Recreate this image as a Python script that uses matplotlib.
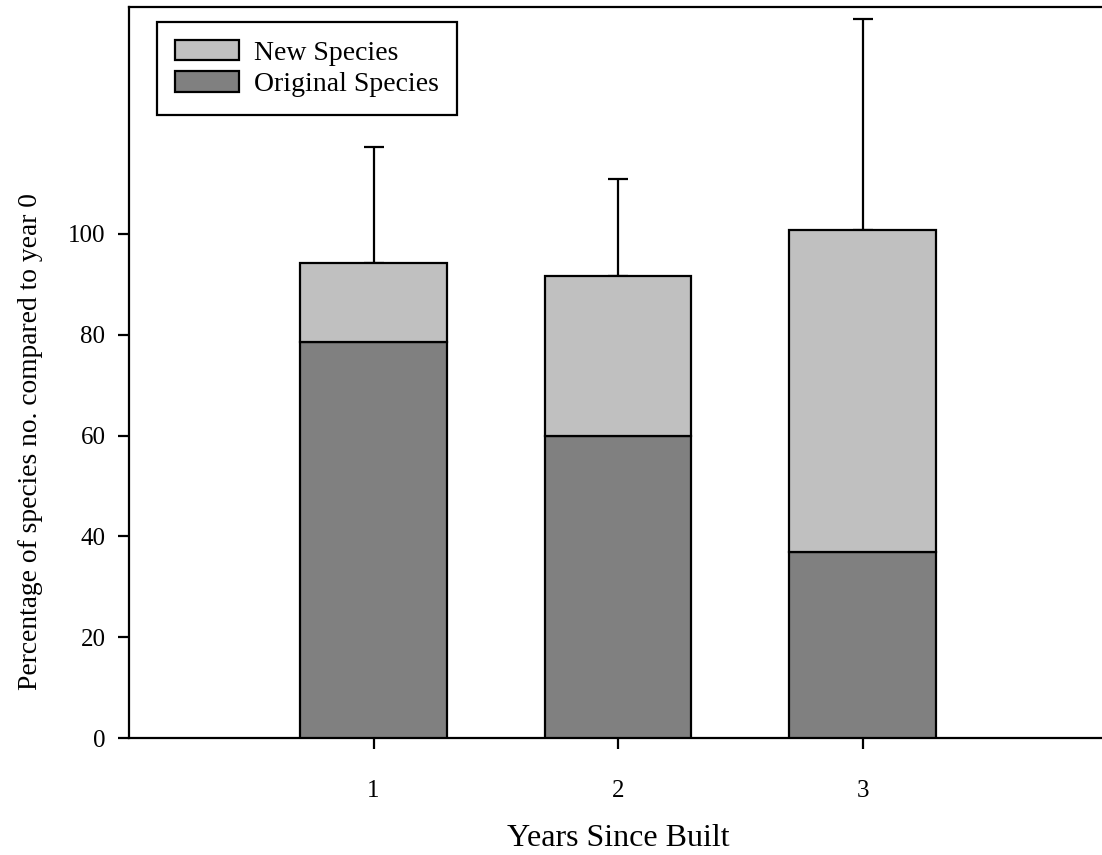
import matplotlib.pyplot as plt
from matplotlib.patches import Patch

plt.rcParams['font.family'] = ['Liberation Serif', 'DejaVu Serif']

# Percentage of species number relative to year 0
years = [1, 2, 3]
original_species = [78.5, 60.0, 36.8]
total_species = [94.2, 91.7, 100.7]
total_sd = [23.1, 19.2, 42.0]

new_species = [t - o for t, o in zip(total_species, original_species)]

fig = plt.figure(figsize=(11.02, 8.55), dpi=100)
ax = fig.add_axes([129 / 1102, 117 / 855, 978 / 1102, 731 / 855])

bar_w = 0.6
ax.bar(years, original_species, width=bar_w, color='#808080',
       edgecolor='black', linewidth=1.6, zorder=3)
ax.bar(years, new_species, width=bar_w, bottom=original_species,
       color='#c0c0c0', edgecolor='black', linewidth=1.6, zorder=3)

# upper error bars only
ax.errorbar(years, total_species, yerr=[[0] * 3, total_sd], fmt='none',
            ecolor='black', elinewidth=1.6, capsize=7.5, capthick=1.6, zorder=2)

ax.set_xlim(0, 4)
ax.set_ylim(0, 145)
ax.set_xticks(years)
ax.set_yticks([0, 20, 40, 60, 80, 100])
ax.tick_params(direction='out', length=8, width=1.6, labelsize=18)
ax.tick_params(axis='x', pad=22)
ax.tick_params(axis='y', pad=9)
for sp in ax.spines.values():
    sp.set_linewidth(1.6)

ax.set_xlabel('Years Since Built', fontsize=23, labelpad=16)
ax.set_ylabel('Percentage of species no. compared to year 0', fontsize=19.8)
ax.yaxis.set_label_coords(-0.088, 0.406)

handles = [Patch(facecolor='#c0c0c0', edgecolor='black', linewidth=1.6),
           Patch(facecolor='#808080', edgecolor='black', linewidth=1.6)]
leg = ax.legend(handles, ['New Species', 'Original Species'], loc='upper left',
                bbox_to_anchor=(0.0286, 0.9795), borderaxespad=0,
                fontsize=20, fancybox=False, framealpha=1, edgecolor='black',
                handlelength=2.3, handleheight=0.75, labelspacing=0.2,
                borderpad=0.65, handletextpad=0.55)
leg.get_frame().set_linewidth(1.6)

fig.savefig('out.png', dpi=100)
